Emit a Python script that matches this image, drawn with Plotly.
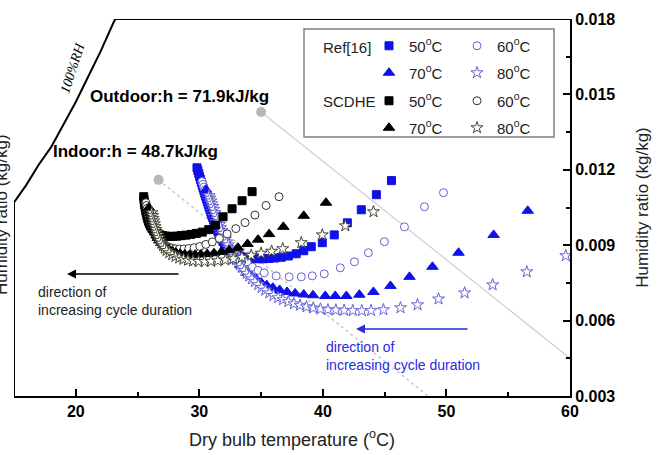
import plotly.graph_objects as go

# ---------------- data ----------------
# saturation (100% RH) boundary, dry bulb (C) / humidity ratio (kg/kg)
sat_T = [15, 16, 17, 18, 19, 20, 21, 22, 23, 23.2]
sat_w = [0.0107, 0.0114, 0.0122, 0.0129, 0.0138, 0.0147, 0.0157, 0.0167, 0.0178, 0.0180]

# outdoor / indoor states
outdoor_T, outdoor_w = [35.0], [0.0143]
indoor_T, indoor_w = [26.7], [0.0116]
outdoor_line_T, outdoor_line_w = [35.0, 60.0], [0.0143, 0.0045]
indoor_line_T, indoor_line_w = [26.7, 48.5], [0.0116, 0.0030]

# Ref[16]
ref50_T = [29.81, 29.88, 29.95, 30.02, 30.09, 30.16, 30.23, 30.30, 30.37, 30.44, 30.51, 30.58, 30.65, 30.72,
           30.79, 30.86, 30.93, 31.00, 31.08, 31.16, 31.24, 31.32, 31.40, 31.49, 31.58, 31.68, 31.79, 31.91,
           32.04, 32.19, 32.36, 32.56, 32.78, 33.03, 33.31, 33.62, 33.96, 34.33, 34.73, 35.16, 35.62, 36.11,
           36.63, 37.20, 37.84, 38.45, 39.06, 39.95, 40.92, 41.98, 43.11, 44.33, 45.55]
ref50_w = [0.01208, 0.01197, 0.01185, 0.01174, 0.01162, 0.01151, 0.01139, 0.01128, 0.01117, 0.01106, 0.01095,
           0.01084, 0.01073, 0.01063, 0.01052, 0.01042, 0.01031, 0.01021, 0.01010, 0.00999, 0.00988, 0.00977,
           0.00967, 0.00956, 0.00946, 0.00935, 0.00925, 0.00915, 0.00905, 0.00895, 0.00885, 0.00876, 0.00868,
           0.00861, 0.00856, 0.00852, 0.00849, 0.00847, 0.00846, 0.00846, 0.00847, 0.00849, 0.00852, 0.00857,
           0.00866, 0.00878, 0.00894, 0.00910, 0.00941, 0.00989, 0.01041, 0.01101, 0.01157]

ref60_T = [30.22, 30.29, 30.36, 30.43, 30.50, 30.57, 30.64, 30.71, 30.78, 30.85, 30.92, 30.99, 31.07, 31.15,
           31.23, 31.31, 31.40, 31.49, 31.59, 31.69, 31.80, 31.92, 32.05, 32.19, 32.35, 32.53, 32.73, 32.96,
           33.22, 33.52, 33.87, 34.30, 34.75, 35.25, 36.22, 37.27, 38.25, 39.14, 40.11, 41.41, 42.55, 43.68,
           44.98, 46.60, 48.22, 49.76]
ref60_w = [0.01153, 0.01142, 0.01131, 0.01120, 0.01109, 0.01098, 0.01087, 0.01076, 0.01065, 0.01055, 0.01044,
           0.01034, 0.01023, 0.01012, 0.01002, 0.00991, 0.00980, 0.00970, 0.00959, 0.00949, 0.00938, 0.00928,
           0.00917, 0.00907, 0.00896, 0.00886, 0.00875, 0.00864, 0.00853, 0.00842, 0.00831, 0.00813, 0.00800,
           0.00790, 0.00778, 0.00774, 0.00774, 0.00778, 0.00786, 0.00810, 0.00834, 0.00870, 0.00914, 0.00973,
           0.01053, 0.01109]

ref70_T = [30.54, 30.61, 30.68, 30.75, 30.82, 30.89, 30.96, 31.04, 31.12, 31.20, 31.28, 31.36, 31.44, 31.52,
           31.60, 31.69, 31.78, 31.87, 31.97, 32.07, 32.18, 32.30, 32.43, 32.57, 32.73, 32.91, 33.11, 33.34,
           33.60, 33.90, 34.23, 34.60, 35.00, 35.45, 35.95, 36.50, 37.10, 37.75, 38.45, 39.20, 40.19, 41.00,
           41.90, 42.95, 44.09, 45.47, 47.01, 48.87, 50.98, 53.82, 56.58]
ref70_w = [0.01121, 0.01110, 0.01099, 0.01088, 0.01077, 0.01066, 0.01056, 0.01045, 0.01035, 0.01024, 0.01014,
           0.01003, 0.00993, 0.00983, 0.00973, 0.00962, 0.00952, 0.00942, 0.00932, 0.00922, 0.00912, 0.00902,
           0.00892, 0.00882, 0.00868, 0.00852, 0.00836, 0.00820, 0.00805, 0.00790, 0.00777, 0.00765, 0.00752,
           0.00741, 0.00731, 0.00722, 0.00714, 0.00708, 0.00704, 0.00701, 0.00698, 0.00698, 0.00698, 0.00703,
           0.00714, 0.00738, 0.00774, 0.00814, 0.00870, 0.00941, 0.01037]

ref80_T = [30.79, 30.86, 30.94, 31.02, 31.10, 31.18, 31.27, 31.36, 31.45, 31.54, 31.63, 31.72, 31.82, 31.92,
           32.02, 32.12, 32.23, 32.34, 32.46, 32.58, 32.71, 32.84, 32.98, 33.13, 33.29, 33.46, 33.64, 33.83,
           34.04, 34.26, 34.50, 34.76, 35.04, 35.34, 35.66, 36.00, 36.37, 36.77, 37.20, 37.66, 38.15, 38.67,
           39.22, 39.80, 40.41, 41.05, 41.72, 42.42, 43.15, 43.90, 44.90, 46.28, 47.66, 49.36, 51.47, 53.74,
           56.50, 59.66]
ref80_w = [0.01097, 0.01087, 0.01076, 0.01065, 0.01054, 0.01043, 0.01030, 0.01018, 0.01006, 0.00994, 0.00982,
           0.00970, 0.00958, 0.00947, 0.00936, 0.00925, 0.00913, 0.00901, 0.00889, 0.00878, 0.00866, 0.00854,
           0.00842, 0.00832, 0.00822, 0.00811, 0.00800, 0.00788, 0.00777, 0.00766, 0.00755, 0.00743, 0.00732,
           0.00721, 0.00710, 0.00700, 0.00691, 0.00683, 0.00675, 0.00667, 0.00661, 0.00655, 0.00650, 0.00646,
           0.00643, 0.00642, 0.00641, 0.00640, 0.00639, 0.00640, 0.00643, 0.00651, 0.00663, 0.00686, 0.00710,
           0.00742, 0.00794, 0.00858]

# SCDHE
sc50_T = [25.50, 25.52, 25.55, 25.58, 25.62, 25.66, 25.71, 25.76, 25.82, 25.89, 25.97, 26.06, 26.17, 26.30,
          26.45, 26.62, 26.82, 27.04, 27.29, 27.56, 27.86, 28.18, 28.53, 28.91, 29.32, 29.76, 30.24, 30.76,
          31.30, 31.92, 32.65, 33.46, 34.27]
sc50_w = [0.01093, 0.01082, 0.01071, 0.01060, 0.01049, 0.01038, 0.01027, 0.01016, 0.01005, 0.00995, 0.00985,
          0.00976, 0.00967, 0.00959, 0.00952, 0.00946, 0.00941, 0.00938, 0.00936, 0.00935, 0.00935, 0.00936,
          0.00938, 0.00940, 0.00943, 0.00947, 0.00952, 0.00962, 0.00980, 0.01013, 0.01045, 0.01077, 0.01113]

sc60_T = [25.68, 25.73, 25.78, 25.83, 25.88, 25.93, 25.99, 26.05, 26.12, 26.19, 26.27, 26.36, 26.47, 26.61,
          26.78, 26.98, 27.20, 27.45, 27.73, 28.04, 28.38, 28.75, 29.15, 29.58, 30.04, 30.53, 31.05, 31.62,
          32.25, 32.95, 33.70, 34.50, 35.40, 36.45]
sc60_w = [0.01069, 0.01058, 0.01047, 0.01036, 0.01025, 0.01014, 0.01003, 0.00992, 0.00981, 0.00970, 0.00959,
          0.00948, 0.00937, 0.00927, 0.00917, 0.00908, 0.00900, 0.00894, 0.00889, 0.00886, 0.00885, 0.00885,
          0.00887, 0.00890, 0.00895, 0.00903, 0.00913, 0.00927, 0.00945, 0.00966, 0.00990, 0.01020, 0.01058,
          0.01093]

sc70_T = [25.92, 25.97, 26.02, 26.07, 26.12, 26.18, 26.24, 26.30, 26.37, 26.45, 26.54, 26.64, 26.76, 26.92,
          27.10, 27.31, 27.55, 27.82, 28.12, 28.45, 28.82, 29.22, 29.66, 30.13, 30.64, 31.19, 31.78, 32.42,
          33.12, 33.90, 34.75, 35.65, 36.80, 38.45, 40.25]
sc70_w = [0.01049, 0.01038, 0.01027, 0.01016, 0.01005, 0.00994, 0.00983, 0.00972, 0.00961, 0.00950, 0.00939,
          0.00929, 0.00919, 0.00909, 0.00900, 0.00891, 0.00883, 0.00876, 0.00870, 0.00866, 0.00863, 0.00862,
          0.00862, 0.00863, 0.00865, 0.00868, 0.00873, 0.00880, 0.00890, 0.00905, 0.00922, 0.00944, 0.00973,
          0.01017, 0.01069]

sc80_T = [26.16, 26.21, 26.26, 26.31, 26.36, 26.42, 26.48, 26.55, 26.63, 26.72, 26.82, 26.93, 27.05, 27.19,
          27.35, 27.56, 27.80, 28.07, 28.37, 28.71, 29.08, 29.49, 29.94, 30.42, 30.94, 31.50, 32.10, 32.75,
          33.45, 34.20, 35.00, 35.85, 36.75, 38.25, 39.95, 41.82, 44.09]
sc80_w = [0.01029, 0.01018, 0.01007, 0.00996, 0.00985, 0.00974, 0.00963, 0.00952, 0.00941, 0.00930, 0.00919,
          0.00908, 0.00898, 0.00888, 0.00879, 0.00870, 0.00862, 0.00855, 0.00849, 0.00844, 0.00840, 0.00837,
          0.00835, 0.00835, 0.00836, 0.00838, 0.00841, 0.00846, 0.00852, 0.00860, 0.00868, 0.00876, 0.00886,
          0.00910, 0.00941, 0.00977, 0.01033]

x_ticks = [20, 30, 40, 50, 60]
y_ticks = [0.003, 0.006, 0.009, 0.012, 0.015, 0.018]

# ---------------- figure ----------------
FONT = "Liberation Sans, Arial, sans-serif"
BLUE = "#1010e8"
BLUE_L = "#6262d6"

fig = go.Figure()

# chart boundary: left edge, saturation curve, top edge
fig.add_trace(go.Scatter(x=[15] + sat_T + [60], y=[0.003] + sat_w + [0.018], mode="lines",
                         line=dict(color="black", width=2), cliponaxis=False,
                         showlegend=False, hoverinfo="skip"))

# enthalpy lines and states
fig.add_trace(go.Scatter(x=outdoor_line_T, y=outdoor_line_w, mode="lines",
                         line=dict(color="#cfcfcf", width=1.2), showlegend=False))
fig.add_trace(go.Scatter(x=indoor_line_T, y=indoor_line_w, mode="lines",
                         line=dict(color="#c8c8c8", width=1.5, dash="dot"), showlegend=False))
fig.add_trace(go.Scatter(x=outdoor_T + indoor_T, y=outdoor_w + indoor_w, mode="markers",
                         marker=dict(color="#b8b8b8", size=10), showlegend=False))

def name(t):
    return t + "<sup>o</sup>C"

series = [
    (ref50_T, ref50_w, "square", BLUE, BLUE, 8, name("50"), "legend"),
    (ref60_T, ref60_w, "circle", "white", BLUE_L, 8, name("60"), "legend"),
    (ref70_T, ref70_w, "triangle-up", BLUE, BLUE, 10, name("70"), "legend2"),
    (ref80_T, ref80_w, "star", "white", BLUE_L, 9, name("80"), "legend2"),
    (sc50_T, sc50_w, "square", "black", "black", 8, name("50"), "legend3"),
    (sc60_T, sc60_w, "circle", "white", "#333333", 8, name("60"), "legend3"),
    (sc70_T, sc70_w, "triangle-up", "black", "black", 10, name("70"), "legend4"),
    (sc80_T, sc80_w, "star", "white", "#444433", 9, name("80"), "legend4"),
]
for xs, ys, sym, fill, edge, size, nm, lg in series:
    fig.add_trace(go.Scatter(x=xs, y=ys, mode="markers", name=nm, legend=lg,
                             marker=dict(symbol=sym, color=fill, size=size,
                                         line=dict(color=edge, width=1))))

def px_x(p):
    return (p - 14) / 556.0

def px_y(p):
    return (396 - p) / 377.0

legend_common = dict(orientation="h", xanchor="left", yanchor="middle", bgcolor="rgba(0,0,0,0)",
                     font=dict(family=FONT, size=15, color="#222"), entrywidth=43,
                     entrywidthmode="pixels", borderwidth=0, tracegroupgap=0)
lx = px_x(369)
fig.update_layout(
    legend=dict(x=lx, y=px_y(46), **legend_common),
    legend2=dict(x=lx, y=px_y(73), **legend_common),
    legend3=dict(x=lx, y=px_y(101), **legend_common),
    legend4=dict(x=lx, y=px_y(128), **legend_common),
)

P = dict(xref="paper", yref="paper")
annotations = [
    dict(text="Ref[16]", x=px_x(321), y=px_y(47), xanchor="left", yanchor="middle", showarrow=False,
         font=dict(family=FONT, size=15, color="#222"), **P),
    dict(text="SCDHE", x=px_x(321), y=px_y(101), xanchor="left", yanchor="middle", showarrow=False,
         font=dict(family=FONT, size=15, color="#222"), **P),
    dict(text="Outdoor:h = 71.9kJ/kg", x=px_x(88), y=px_y(97), xanchor="left", yanchor="middle",
         showarrow=False, font=dict(family=FONT, size=17, color="black", weight="bold"), **P),
    dict(text="Indoor:h = 48.7kJ/kg", x=px_x(51), y=px_y(151), xanchor="left", yanchor="middle",
         showarrow=False, font=dict(family=FONT, size=17, color="black", weight="bold"), **P),
    dict(text="100%RH", x=px_x(72), y=px_y(68), xanchor="center", yanchor="middle", textangle=-72,
         showarrow=False, font=dict(family="Liberation Serif, Times New Roman, serif", size=14,
                                    color="black", style="italic"), **P),
    dict(text="direction of<br>increasing cycle duration", x=px_x(36), y=px_y(301), xanchor="left",
         yanchor="middle", align="left", showarrow=False,
         font=dict(family=FONT, size=14, color="#222"), **P),
    dict(text="", x=px_x(67), y=px_y(274), ax=113, ay=0, showarrow=True, arrowhead=2, arrowsize=1.2,
         arrowwidth=1.5, arrowcolor="black", **P),
    dict(text="direction of<br>increasing cycle duration", x=px_x(324), y=px_y(356), xanchor="left",
         yanchor="middle", align="left", showarrow=False,
         font=dict(family=FONT, size=14, color="#2a2ae0"), **P),
    dict(text="", x=px_x(356), y=px_y(329), ax=113, ay=0, showarrow=True, arrowhead=2, arrowsize=1.2,
         arrowwidth=1.5, arrowcolor="#2a2ae0", **P),
    # left (clipped) copy of the humidity axis title
    dict(text="Humidity ratio (kg/kg)", x=px_x(1), y=px_y(215), xanchor="center", yanchor="middle",
         textangle=-90, showarrow=False, font=dict(family=FONT, size=17, color="#222"), **P),
]

shapes = [
    dict(type="rect", xref="paper", yref="paper", x0=px_x(304), x1=px_x(554), y0=px_y(137), y1=px_y(29),
         line=dict(color="#808080", width=1.5), fillcolor="white", layer="below"),
]

fig.update_layout(
    width=666, height=455,
    margin=dict(l=14, r=96, t=19, b=59, autoexpand=False),
    paper_bgcolor="white", plot_bgcolor="white",
    font=dict(family=FONT, color="black"),
    annotations=annotations, shapes=shapes,
    xaxis=dict(range=[15, 60], tickvals=x_ticks, ticktext=[str(v) for v in x_ticks],
               showline=True, linecolor="black", linewidth=2, mirror=False, automargin=False,
               ticks="inside", ticklen=7, tickwidth=1.5, tickcolor="black",
               minor=dict(tickvals=[25, 35, 45, 55], ticks="inside", ticklen=4, tickwidth=1.5,
                          tickcolor="black"),
               showgrid=False, zeroline=False,
               tickfont=dict(family=FONT, size=16, color="black", weight="bold"),
               title=dict(text="Dry bulb temperature (<sup>o</sup>C)",
                          font=dict(family=FONT, size=18, color="#222"), standoff=14)),
    yaxis=dict(range=[0.003, 0.018], side="right", tickvals=y_ticks,
               ticktext=["%.3f" % v for v in y_ticks], automargin=False,
               showline=True, linecolor="black", linewidth=2, mirror=False,
               ticks="inside", ticklen=7, tickwidth=1.5, tickcolor="black",
               minor=dict(tickvals=[0.0045, 0.0075, 0.0105, 0.0135, 0.0165], ticks="inside",
                          ticklen=4, tickwidth=1.5, tickcolor="black"),
               showgrid=False, zeroline=False,
               tickfont=dict(family=FONT, size=16, color="black", weight="bold"),
               title=dict(text="Humidity ratio (kg/kg)",
                          font=dict(family=FONT, size=17, color="#222"), standoff=22)),
)

fig.write_html("out.html", config={"displayModeBar": False},
               post_script="document.body.style.margin='0px';")
